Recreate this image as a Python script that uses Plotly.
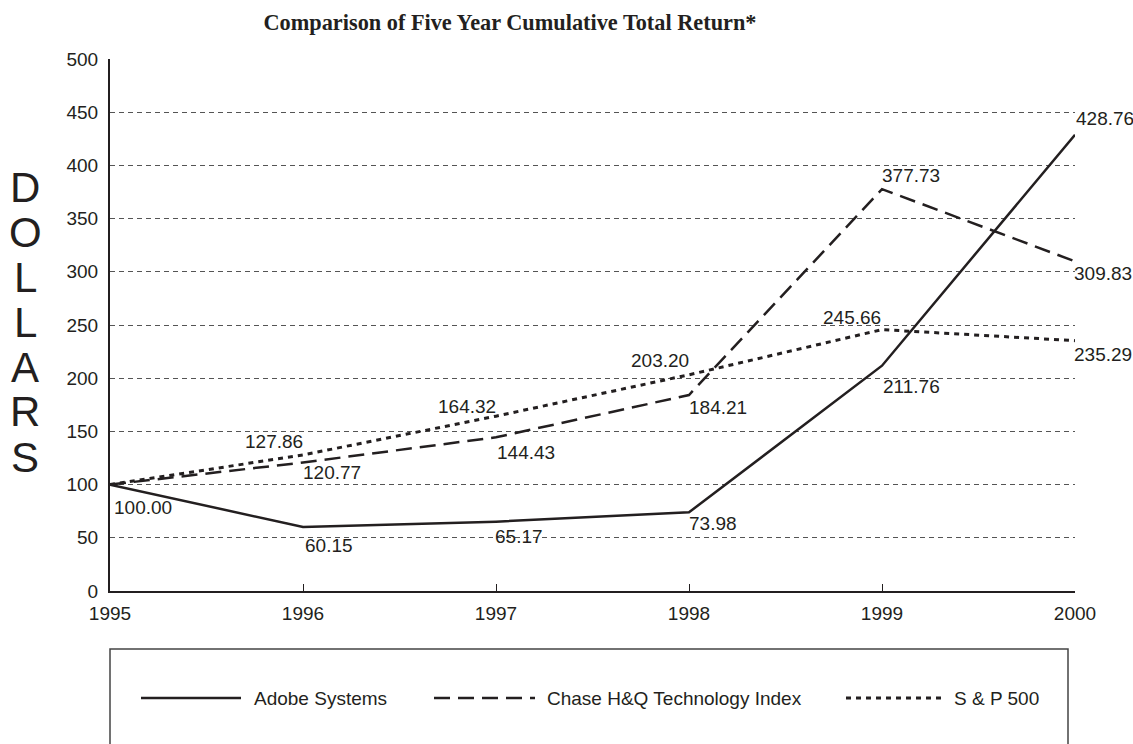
import plotly.graph_objects as go

years = [1995, 1996, 1997, 1998, 1999, 2000]
adobe = [100.00, 60.15, 65.17, 73.98, 211.76, 428.76]
chase = [100.00, 120.77, 144.43, 184.21, 377.73, 309.83]
sp500 = [100.00, 127.86, 164.32, 203.20, 245.66, 235.29]
series_names = ["Adobe Systems", "Chase H&Q Technology Index", "S & P 500"]
y_ticks = [0, 50, 100, 150, 200, 250, 300, 350, 400, 450, 500]
title_text = "Comparison of Five Year Cumulative Total Return*"
y_title_letters = list("DOLLARS")

# label offsets in pixels (xshift, yshift) per point; None = no label
adobe_off = [(33, -23), (26, -18), (23, -15), (24, -11), (29, -21), (30, 16)]
chase_off = [None, (29, -10), (30, -15), (29, -12), (29, 14), (28, -12)]
sp_off = [None, (-29, 13), (-29, 10), (-29, 14), (-30, 12), (28, -14)]

INK = "#231f20"
FONT = "Liberation Sans, Arial, Helvetica, sans-serif"
FS = 19

fig = go.Figure()
styles = [
    dict(color=INK, width=2.5, dash="solid"),
    dict(color=INK, width=2.5, dash="16px,8px"),
    dict(color=INK, width=3, dash="5px,5px"),
]
for name, vals, st in zip(series_names, [adobe, chase, sp500], styles):
    fig.add_trace(go.Scatter(x=years, y=vals, mode="lines", name=name,
                             line=st, showlegend=False, hoverinfo="skip"))

annotations = []
for vals, offs in [(adobe, adobe_off), (chase, chase_off), (sp500, sp_off)]:
    for x, v, off in zip(years, vals, offs):
        if off is None:
            continue
        annotations.append(dict(x=x, y=v, xref="x", yref="y", text=f"{v:.2f}",
                                showarrow=False, xshift=off[0], yshift=off[1],
                                font=dict(family=FONT, size=FS, color=INK)))

# DOLLARS vertical letters
for i, ch in enumerate(y_title_letters):
    ypx = 187 + i * 45
    annotations.append(dict(x=(25 - 110) / 965, y=(591 - ypx) / 532, xref="paper", yref="paper",
                            text=ch, showarrow=False, xanchor="center", yanchor="middle",
                            font=dict(family=FONT, size=42, color=INK)))

# legend box and entries (drawn manually)
shapes = [dict(type="rect", xref="paper", yref="paper", x0=0, x1=(1068 - 110) / 965,
               y0=-0.40, y1=(591 - 649) / 532, line=dict(color="#444444", width=1.5),
               fillcolor="rgba(0,0,0,0)")]
leg_y = (591 - 698) / 532
leg_items = [(141, 241, 252), (434, 535, 545), (846, 943, 952)]
for (x0, x1, tx), name, st in zip(leg_items, series_names, styles):
    shapes.append(dict(type="line", xref="paper", yref="paper",
                       x0=(x0 - 110) / 965, x1=(x1 - 110) / 965, y0=leg_y, y1=leg_y,
                       line=st))
    annotations.append(dict(x=(tx - 110) / 965, y=leg_y, xref="paper", yref="paper",
                            text=name, showarrow=False, xanchor="left", yanchor="middle",
                            font=dict(family=FONT, size=FS, color=INK)))

fig.update_layout(
    width=1133, height=744,
    margin=dict(l=110, r=58, t=59, b=153),
    paper_bgcolor="white", plot_bgcolor="white",
    title=dict(text=f"<b>{title_text}</b>", x=510 / 1133, xanchor="center",
               y=1 - 22 / 744, yanchor="middle", xref="container", yref="container",
               font=dict(family="Liberation Serif, Times New Roman, serif", size=22.3, color=INK)),
    annotations=annotations,
    shapes=shapes,
    showlegend=False,
)
fig.update_xaxes(range=[1995, 2000], tickvals=years, ticktext=[str(y) for y in years],
                 showgrid=False, zeroline=False, showline=True, linecolor=INK, linewidth=2,
                 ticks="inside", ticklen=7, tickwidth=1, tickcolor=INK, ticklabelstandoff=4,
                 tickfont=dict(family=FONT, size=FS, color=INK))
fig.update_yaxes(range=[0, 500], tickvals=y_ticks, showgrid=True, gridcolor="#555555",
                 gridwidth=1, griddash="5px,4px", zeroline=False, showline=True,
                 linecolor=INK, linewidth=2, ticks="", ticklabelstandoff=6,
                 tickfont=dict(family=FONT, size=FS, color=INK))

fig.write_html("out.html", config={"displayModeBar": False},
               post_script="document.body.style.margin='0';document.body.style.overflow='hidden';")
